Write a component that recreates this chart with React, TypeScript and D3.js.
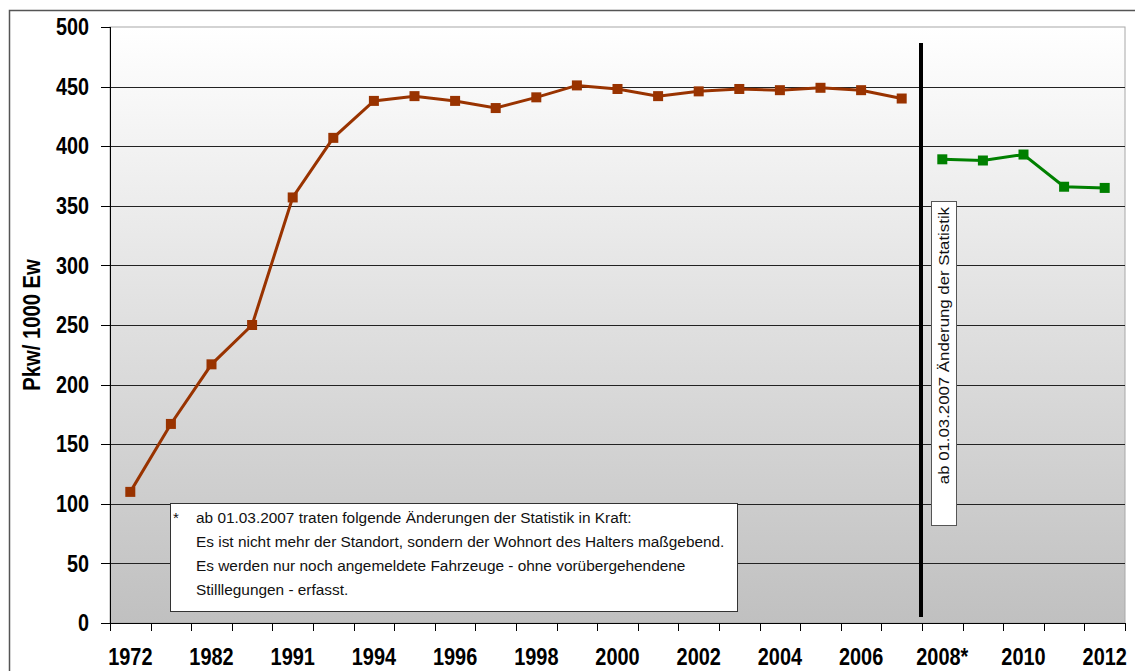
import React from "react";
import * as d3 from "d3";

const categories = [
  "1972", "1977", "1982", "1987", "1991", "1992", "1994", "1995", "1996", "1997",
  "1998", "1999", "2000", "2001", "2002", "2003", "2004", "2005", "2006", "2007",
  "2008*", "2009", "2010", "2011", "2012",
];
const oldSeriesCats = categories.slice(0, 20);
const oldSeriesValues = [110, 167, 217, 250, 357, 407, 438, 442, 438, 432, 441, 451, 448, 442, 446, 448, 447, 449, 447, 440];
const newSeriesCats = ["2008*", "2009", "2010", "2011", "2012"];
const newSeriesValues = [389, 388, 393, 366, 365];
const yTicks = [0, 50, 100, 150, 200, 250, 300, 350, 400, 450, 500];
const noteLines = [
  "ab 01.03.2007 traten folgende Änderungen der Statistik in Kraft:",
  "Es ist nicht mehr der Standort, sondern der Wohnort des Halters maßgebend.",
  "Es werden nur noch angemeldete Fahrzeuge - ohne vorübergehendene",
  "Stilllegungen - erfasst.",
];
const breakLabel = "ab 01.03.2007 Änderung der Statistik";

const W = 1135, H = 671;
const left = 110, right = 1125, top = 27, bottom = 623;
const sans = "'Liberation Sans', Arial, sans-serif";

export default function App() {
  const x = d3.scaleBand<string>().domain(categories).range([left, right]).padding(0);
  const y = d3.scaleLinear().domain([0, 500]).range([bottom, top]);
  const cx = (c: string) => (x(c) as number) + x.bandwidth() / 2;

  const line = d3.line<[string, number]>().x((d) => cx(d[0])).y((d) => y(d[1]));
  const oldData: [string, number][] = oldSeriesCats.map((c, i) => [c, oldSeriesValues[i]]);
  const newData: [string, number][] = newSeriesCats.map((c, i) => [c, newSeriesValues[i]]);

  const boundaries = categories.map((c) => x(c) as number).concat([right]);
  const breakX = x("2008*") as number;
  const ms = 10;

  return (
    <svg width={W} height={H} style={{ position: "fixed", left: 0, top: 0, background: "#fff" }}>
      <defs>
        <linearGradient id="bg" x1="0" y1="0" x2="0" y2="1">
          <stop offset="0" stopColor="#ffffff" />
          <stop offset="1" stopColor="#c0c0c0" />
        </linearGradient>
      </defs>
      <rect x={9.5} y={10.5} width={1200} height={800} fill="#fff" stroke="#555" strokeWidth={1.5} />
      <rect x={left} y={top} width={right - left} height={bottom - top} fill="url(#bg)" stroke="#a8a8a8" strokeWidth={1} />
      {yTicks.filter((t) => t > 0 && t < 500).map((t) => (
        <line key={t} x1={left} x2={right} y1={Math.round(y(t)) + 0.5} y2={Math.round(y(t)) + 0.5} stroke="#222" strokeWidth={1} />
      ))}
      {/* y axis */}
      <line x1={left + 0.5} x2={left + 0.5} y1={top} y2={bottom} stroke="#000" strokeWidth={1} />
      {yTicks.map((t) => (
        <g key={t}>
          <line x1={left - 9} x2={left} y1={Math.round(y(t)) + 0.5} y2={Math.round(y(t)) + 0.5} stroke="#000" strokeWidth={1} />
          <text
            transform={`translate(89,${y(t)}) scale(0.86,1)`}
            dy="0.36em"
            textAnchor="end"
            fontFamily={sans}
            fontWeight="bold"
            fontSize={23}
            fill="#000"
          >
            {t}
          </text>
        </g>
      ))}
      <text
        transform={`translate(32,${325}) rotate(-90) scale(0.88,1)`}
        textAnchor="middle"
        dy="0.36em"
        fontFamily={sans}
        fontWeight="bold"
        fontSize={23}
        fill="#000"
      >
        Pkw/ 1000 Ew
      </text>
      {/* x axis */}
      <line x1={left} x2={right} y1={bottom + 0.5} y2={bottom + 0.5} stroke="#000" strokeWidth={1} />
      {boundaries.map((b, i) => (
        <line key={i} x1={Math.round(b) + 0.5} x2={Math.round(b) + 0.5} y1={bottom} y2={bottom + 8} stroke="#000" strokeWidth={1} />
      ))}
      {categories.map((c, i) =>
        i % 2 === 0 ? (
          <text
            key={c}
            transform={`translate(${cx(c)},665) scale(0.83,1)`}
            textAnchor="middle"
            fontFamily={sans}
            fontWeight="bold"
            fontSize={24}
            fill="#000"
          >
            {c}
          </text>
        ) : null
      )}
      {/* note box */}
      <rect x={170.5} y={503.5} width={567} height={108} fill="#fff" stroke="#333" strokeWidth={1} />
      <text x={173} y={523} fontFamily={sans} fontSize={15} fill="#111">*</text>
      {noteLines.map((l, i) => (
        <text key={i} x={196} y={523 + i * 24} fontFamily={sans} fontSize={15.4} fill="#111">
          {l}
        </text>
      ))}
      {/* break line */}
      <line x1={breakX - 1} x2={breakX - 1} y1={43} y2={617} stroke="#000" strokeWidth={4} />
      <rect x={931.5} y={201.5} width={25} height={324} fill="#fff" stroke="#555" strokeWidth={1} />
      <text
        transform={`translate(944,207) rotate(-90) scale(1,0.9)`}
        textAnchor="end"
        dy="0.36em"
        fontFamily={sans}
        fontSize={16.8}
        fill="#111"
      >
        {breakLabel}
      </text>
      {/* series */}
      <path d={line(oldData) || ""} fill="none" stroke="#993300" strokeWidth={3} />
      {oldData.map((d) => (
        <rect key={d[0]} x={cx(d[0]) - ms / 2} y={y(d[1]) - ms / 2} width={ms} height={ms} fill="#993300" />
      ))}
      <path d={line(newData) || ""} fill="none" stroke="#008000" strokeWidth={3} />
      {newData.map((d) => (
        <rect key={d[0]} x={cx(d[0]) - ms / 2} y={y(d[1]) - ms / 2} width={ms} height={ms} fill="#008000" />
      ))}
    </svg>
  );
}
